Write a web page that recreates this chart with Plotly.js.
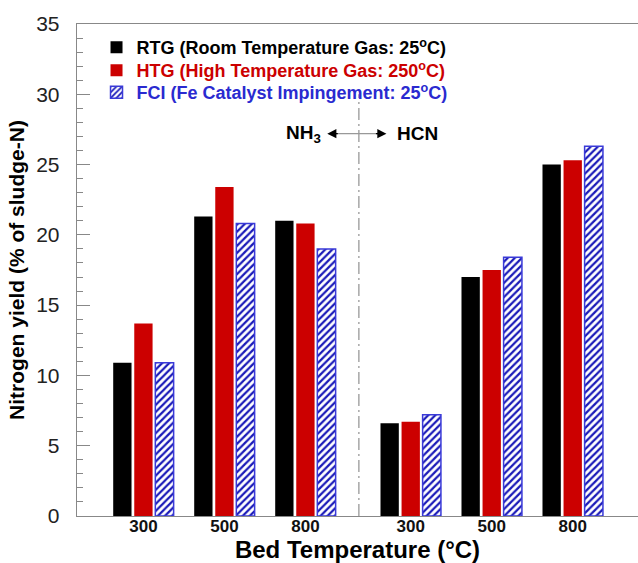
<!DOCTYPE html>
<html>
<head>
<meta charset="utf-8">
<script src="https://cdn.plot.ly/plotly-3.0.1.min.js"></script>
<style>html,body{margin:0;padding:0;background:#fff}#chart{width:638px;height:563px}</style>
</head>
<body>
<div id="chart"></div>
<script>
// Data
const positions = [0, 1, 2, 3.3, 4.3, 5.3];
const tickLabels = ['300', '500', '800', '300', '500', '800'];
const seriesNames = [
  '<b>RTG (Room Temperature Gas: 25<sup>o</sup>C)</b>',
  '<b>HTG (High Temperature Gas: 250<sup>o</sup>C)</b>',
  '<b>FCI (Fe Catalyst Impingement: 25<sup>o</sup>C)</b>'
];
const rtg = [10.9, 21.3, 21.0, 6.6, 17.0, 25.0];
const htg = [13.7, 23.4, 20.8, 6.7, 17.5, 25.3];
const fci = [10.9, 20.8, 19.0, 7.2, 18.4, 26.3];
const dividerX = 2.66;
const nh3X = 1.975, hcnX = 3.38, arrowY = 27.2;
const arrowLeft = 2.27, arrowRight = 3.0;

const FONT = 'Liberation Sans, Arial, Helvetica, sans-serif';
const AXC = '#888888';
const legendColors = ['#000000', '#cc0000', '#2a2ad0'];

const traces = [
  {type: 'bar', x: positions, y: rtg, name: seriesNames[0], legend: 'legend',
   marker: {color: '#000000', line: {color: '#000000', width: 0}}},
  {type: 'bar', x: positions, y: htg, name: seriesNames[1], legend: 'legend2',
   marker: {color: '#cc0000', line: {color: '#cc0000', width: 0}}},
  {type: 'bar', x: positions, y: fci, name: seriesNames[2], legend: 'legend3',
   marker: {color: '#ffffff', line: {color: '#3a3ad8', width: 1.5},
            pattern: {shape: '/', fgcolor: '#1a1ab8', bgcolor: '#ffffff', size: 5, solidity: 0.45}}}
];

function leg(y, col) {
  return {x: 0.0348, y: y, xanchor: 'left', yanchor: 'middle',
          bgcolor: 'rgba(0,0,0,0)', font: {size: 18, family: FONT, color: col},
          itemclick: false};
}

const layout = {
  width: 638, height: 563,
  margin: {l: 77, r: 0, t: 23.5, b: 47, pad: 0},
  paper_bgcolor: '#ffffff', plot_bgcolor: '#ffffff',
  font: {family: FONT, color: '#000'},
  barmode: 'group', bargap: 0.22, bargroupgap: 0.13,
  showlegend: true,
  legend: leg(0.9523, legendColors[0]),
  legend2: leg(0.9056, legendColors[1]),
  legend3: leg(0.8609, legendColors[2]),
  xaxis: {
    range: [-0.82, 6.106], tickvals: positions, ticktext: tickLabels.map(function(t){return '<b>' + t + '</b>';}),
    ticks: '', showgrid: false, zeroline: false, showline: true, linecolor: AXC, linewidth: 1.3,
    mirror: true,
    tickfont: {size: 17, family: FONT, color: '#111'}, ticklabelstandoff: -6,
    title: {text: '<b>Bed Temperature (°C)</b>', font: {size: 24, family: FONT, color: '#000'}, standoff: 0}
  },
  yaxis: {
    range: [0, 35], dtick: 5, tick0: 0, ticks: 'inside', ticklen: 13, tickcolor: AXC, tickwidth: 1,
    minor: {dtick: 1, ticks: 'inside', ticklen: 6, tickcolor: AXC, tickwidth: 1},
    showgrid: false, zeroline: false, showline: true, linecolor: AXC, linewidth: 1.3,
    tickfont: {size: 21, family: FONT, color: '#222'}, ticklabelstandoff: 12,
    title: {text: '<b>Nitrogen yield (% of sludge-N)</b>', font: {size: 21, family: FONT, color: '#000'}, standoff: 5}
  },
  shapes: [
    {type: 'line', xref: 'x', yref: 'y', x0: dividerX, x1: dividerX, y0: 0, y1: 30,
     line: {color: '#999999', width: 1.3, dash: '12px,4px,2px,4px'}},
    {type: 'line', xref: 'x', yref: 'y', x0: arrowLeft + 0.05, x1: arrowRight - 0.05, y0: arrowY, y1: arrowY,
     line: {color: '#999999', width: 1.3}}
  ],
  annotations: [
    {x: nh3X, y: arrowY, xref: 'x', yref: 'y', text: '<b>NH<sub>3</sub></b>', showarrow: false,
     font: {size: 19, family: FONT, color: '#000'}},
    {x: hcnX, y: arrowY, xref: 'x', yref: 'y', text: '<b>HCN</b>', showarrow: false,
     font: {size: 19, family: FONT, color: '#000'}},
    {x: arrowLeft, y: arrowY, xref: 'x', yref: 'y', ax: 12, ay: 0, text: '', showarrow: true,
     arrowhead: 2, arrowsize: 1.4, arrowwidth: 1.3, arrowcolor: '#000'},
    {x: arrowRight, y: arrowY, xref: 'x', yref: 'y', ax: -12, ay: 0, text: '', showarrow: true,
     arrowhead: 2, arrowsize: 1.4, arrowwidth: 1.3, arrowcolor: '#000'}
  ]
};

Plotly.newPlot('chart', traces, layout, {displayModeBar: false, staticPlot: true});
</script>
</body>
</html>
